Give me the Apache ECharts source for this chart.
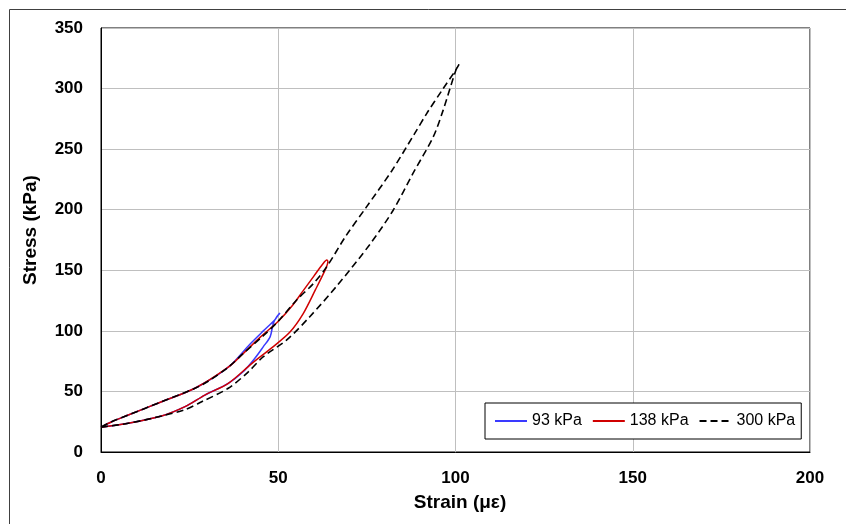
<!DOCTYPE html>
<html>
<head>
<meta charset="utf-8">
<script src="https://cdn.jsdelivr.net/npm/echarts@6/dist/echarts.min.js"></script>
<style>
  html, body { margin: 0; padding: 0; background: #fff; }
  #chart { width: 846px; height: 524px; }
</style>
</head>
<body>
<div id="chart"></div>
<script>
// 数据：应变 (με) 与 应力 (kPa)，每条回线从 (0,20) 沿下支到峰值再沿上支返回
var seriesNames = ['93 kPa', '138 kPa', '300 kPa'];

var strain93 = [0, 7.7, 17.1, 23.7, 29.3, 35.9, 40, 43.4, 45.8, 47.7, 48.6, 49.6, 50.5, 50.2, 49, 45.8, 42, 35.9, 26.5, 17.1, 7.7, 3, 0];
var stress93 = [20.5, 23.7, 29.7, 37.4, 47, 56.7, 66, 77.4, 87, 95, 106, 111.7, 114.5, 114, 109, 100, 89, 70, 52.6, 41.5, 30.5, 25, 20.5];

var strain138 = [0, 7.7, 17.1, 23.7, 29.3, 35.9, 42.5, 48.6, 53.3, 57, 60.5, 63.5, 64, 63.7, 62.5, 60, 57, 54, 50, 45, 40, 35.9, 26.5, 17.1, 7.7, 3, 0];
var stress138 = [20.5, 23.7, 29.7, 37.4, 47, 56.7, 73, 87, 99, 114, 134, 152, 157, 158.5, 155, 145, 133, 121, 108, 95, 81, 70, 52.6, 41.5, 30.5, 25, 20.5];

var strain300 = [0, 7.7, 17.1, 23.7, 28.4, 35.9, 41.5, 45.8, 52.4, 58.9, 66.5, 76, 82.5, 88, 93.7, 96.5, 99.4, 100.5, 101, 100, 96.3, 92, 88.5, 82, 74.7, 69, 63.7, 59.9, 55.2, 50, 45.8, 40, 35.9, 30, 26.5, 17.1, 7.7, 3, 0];
var stress300 = [20.5, 23.7, 29.7, 35, 41.5, 52.6, 66, 78.7, 92.5, 111.7, 137, 172, 200, 230, 260, 282, 309, 318, 320, 315, 299, 280, 263, 232, 201.5, 178, 153, 139, 125.5, 108, 96, 81, 70, 58, 52.6, 41.5, 30.5, 25, 20.5];

var xTicks = [0, 50, 100, 150, 200];
var yTicks = [0, 50, 100, 150, 200, 250, 300, 350];

function pairs(xs, ys) {
    var out = [];
    for (var i = 0; i < xs.length; i++) out.push([xs[i], ys[i]]);
    return out;
}

var myChart = echarts.init(document.getElementById('chart'));
var font = 'Liberation Sans, Arial, sans-serif';

var option = {
    animation: false,
    backgroundColor: '#fff',
    grid: {
        left: 101, right: 36, top: 28, bottom: 72,
        show: true, borderColor: '#000', borderWidth: 1
    },
    graphic: [
        {
            type: 'rect', left: 7, top: 7, silent: true,
            shape: { width: 900, height: 600 },
            style: { fill: 'none', stroke: '#404040', lineWidth: 1 }
        },
        {
            type: 'text', x: 31, y: 230, rotation: Math.PI / 2,
            style: {
                text: 'Stress (kPa)', font: 'bold 19px ' + font, fill: '#000',
                align: 'center', verticalAlign: 'middle'
            }
        },
        {
            type: 'text', x: 460, y: 503,
            style: {
                text: 'Strain (με)', font: 'bold 19px ' + font, fill: '#000',
                align: 'center', verticalAlign: 'middle'
            }
        }
    ],
    legend: {
        data: seriesNames,
        left: 485, top: 403,
        orient: 'horizontal',
        backgroundColor: '#fff',
        borderColor: '#000', borderWidth: 1,
        padding: [10, 6, 10, 9],
        itemWidth: 32, itemHeight: 14, itemGap: 10,
        itemStyle: { opacity: 0 },
        textStyle: { fontFamily: font, fontSize: 16, color: '#000' }
    },
    xAxis: {
        type: 'value', min: xTicks[0], max: xTicks[xTicks.length - 1], interval: 50,
        axisLine: { lineStyle: { color: '#000', width: 1 } },
        axisTick: { show: false },
        axisLabel: { margin: 18, fontFamily: font, fontSize: 17, fontWeight: 'bold', color: '#000' },
        splitLine: { show: true, lineStyle: { color: '#bfbfbf', width: 1 } }
    },
    yAxis: {
        type: 'value', min: yTicks[0], max: yTicks[yTicks.length - 1], interval: 50,
        axisLine: { show: true, lineStyle: { color: '#000', width: 1 } },
        axisTick: { show: false },
        axisLabel: { margin: 18, fontFamily: font, fontSize: 17, fontWeight: 'bold', color: '#000' },
        splitLine: { show: true, lineStyle: { color: '#bfbfbf', width: 1 } }
    },
    series: [
        {
            name: seriesNames[0], type: 'line', symbol: 'none', smooth: 0.3,
            data: pairs(strain93, stress93),
            itemStyle: { color: '#3a3aff' },
            lineStyle: { color: '#3a3aff', width: 1.5 }
        },
        {
            name: seriesNames[1], type: 'line', symbol: 'none', smooth: 0.3,
            data: pairs(strain138, stress138),
            itemStyle: { color: '#d00000' },
            lineStyle: { color: '#d00000', width: 1.5 }
        },
        {
            name: seriesNames[2], type: 'line', symbol: 'none', smooth: 0.3,
            data: pairs(strain300, stress300),
            itemStyle: { color: '#000' },
            lineStyle: { color: '#000', width: 1.6, type: [7, 4] }
        }
    ]
};

myChart.setOption(option);
</script>
</body>
</html>
